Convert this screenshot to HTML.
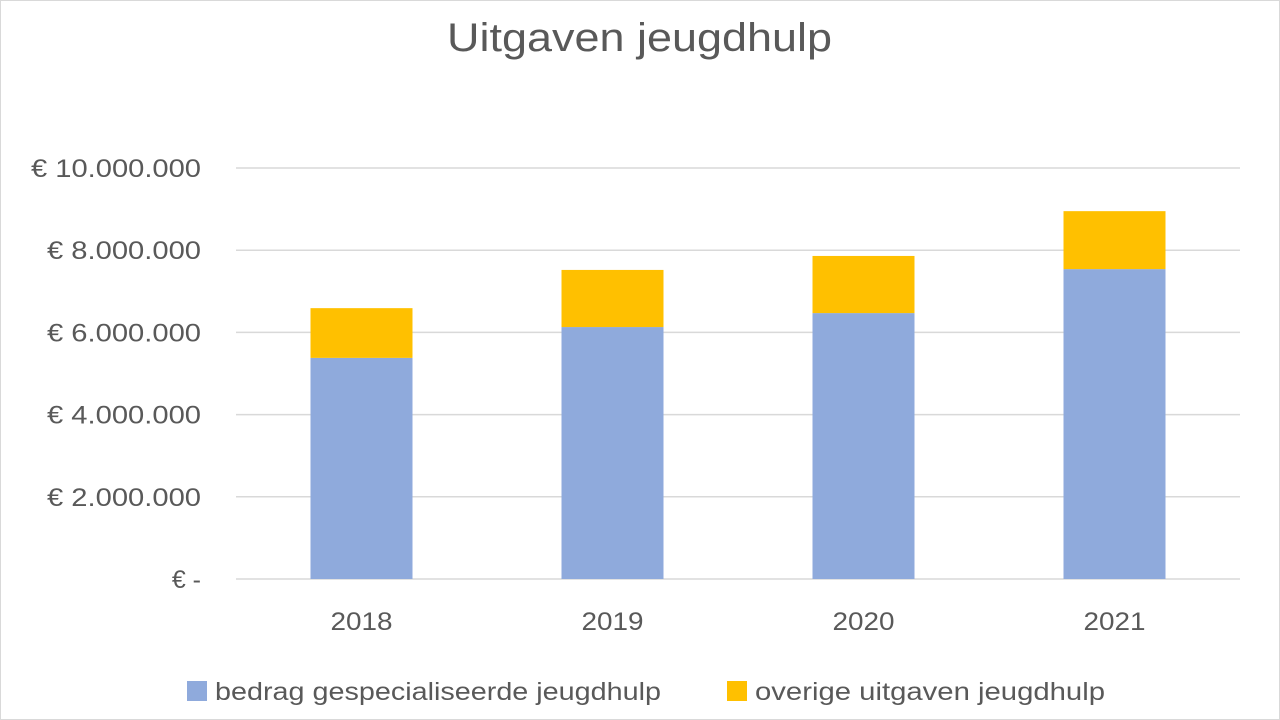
<!DOCTYPE html>
<html><head><meta charset="utf-8"><style>
body{margin:0;background:#fff;font-family:"Liberation Sans",sans-serif;}
#wrap{width:1278px;height:718px;border:1px solid #d9d9d9;position:relative;overflow:hidden}
</style></head><body>
<div id="wrap">
<svg id="chart" width="1278" height="718"></svg>
</div>
<script>
const categories=["2018","2019","2020","2021"];
const specialised=[5380000,6130000,6470000,7540000];
const other=[1210000,1390000,1390000,1410000];
const ticks=[0,2000000,4000000,6000000,8000000,10000000];
const tickLabels=["€ -","€ 2.000.000","€ 4.000.000","€ 6.000.000","€ 8.000.000","€ 10.000.000"];
const svg=document.getElementById('chart');
const NS="http://www.w3.org/2000/svg";
const x0=235,x1=1239,y0=578,yTop=167,maxV=10000000;
const y=v=>y0-(v/maxV)*(y0-yTop);
const bw=(x1-x0)/categories.length, barW=102;
function el(t,a,txt){const e=document.createElementNS(NS,t);for(const k in a)e.setAttribute(k,a[k]);if(txt!=null)e.textContent=txt;svg.appendChild(e);return e;}
let t=el('text',{x:446,y:50,'font-size':40,fill:'#595959',textLength:385,lengthAdjust:'spacingAndGlyphs'},'Uitgaven jeugdhulp');

ticks.forEach((v,i)=>{
 const g=el('line',{x1:x0,x2:x1,y1:y(v),y2:y(v),stroke:'#d9d9d9','stroke-width':1.5});
 
 const a={x:200,y:y(v)+9,'text-anchor':'end','font-size':25,fill:'#595959'};
 if(tickLabels[i].length>4){const w=tickLabels[i].length===12?170:154;a.textLength=w;a.lengthAdjust='spacingAndGlyphs';}
 const l=el('text',a,tickLabels[i]);
 
});
categories.forEach((c,i)=>{
 const cx=x0+bw*(i+0.5);
 const b=el('rect',{x:cx-barW/2,y:y(specialised[i]),width:barW,height:y0-y(specialised[i]),fill:'#8faadc'});
 
 const o=el('rect',{x:cx-barW/2,y:y(specialised[i]+other[i]),width:barW,height:y(specialised[i])-y(specialised[i]+other[i]),fill:'#ffc000'});
 
 const l=el('text',{x:cx-31,y:629,'font-size':25,fill:'#595959',textLength:62,lengthAdjust:'spacingAndGlyphs'},c);
 
});
let r=el('rect',{x:186,y:680,width:20,height:20,fill:'#8faadc'});

t=el('text',{x:214,y:699,'font-size':25,fill:'#595959',textLength:446,lengthAdjust:'spacingAndGlyphs'},'bedrag gespecialiseerde jeugdhulp');

r=el('rect',{x:726,y:680,width:20,height:20,fill:'#ffc000'});

t=el('text',{x:754,y:699,'font-size':25,fill:'#595959',textLength:350,lengthAdjust:'spacingAndGlyphs'},'overige uitgaven jeugdhulp');

</script>
</body></html>
